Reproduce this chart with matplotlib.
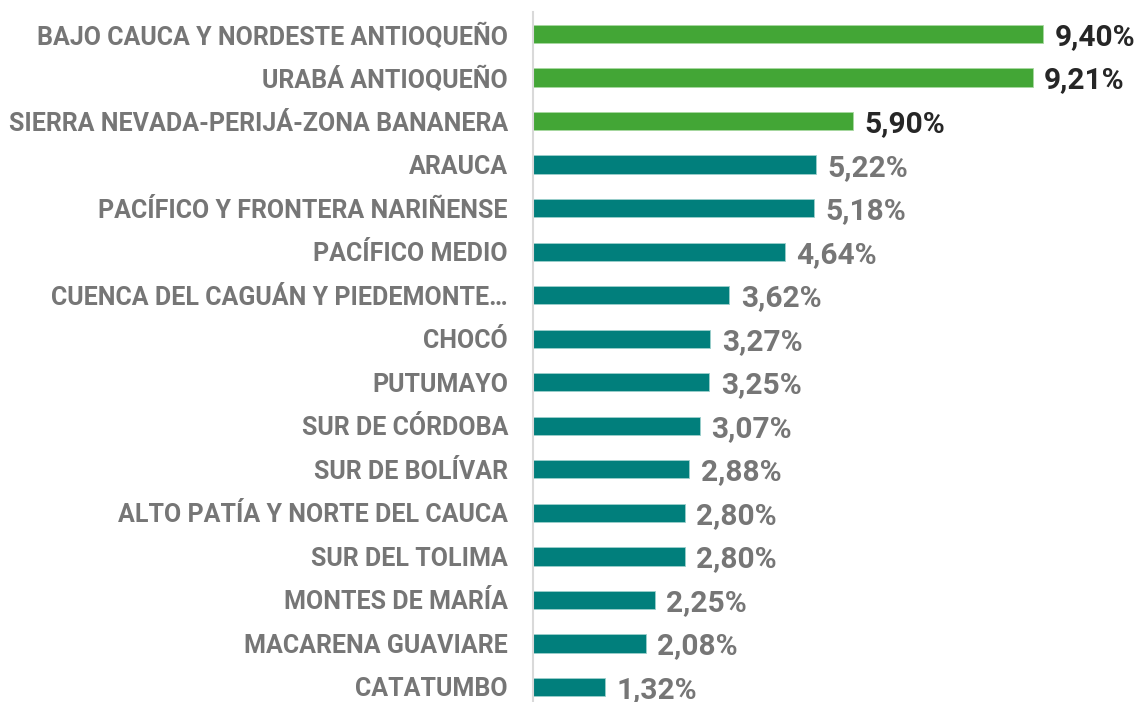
import matplotlib
matplotlib.use("Agg")
import matplotlib.pyplot as plt

categories = [
    "BAJO CAUCA Y NORDESTE ANTIOQUEÑO",
    "URABÁ ANTIOQUEÑO",
    "SIERRA NEVADA-PERIJÁ-ZONA BANANERA",
    "ARAUCA",
    "PACÍFICO Y FRONTERA NARIÑENSE",
    "PACÍFICO MEDIO",
    "CUENCA DEL CAGUÁN Y PIEDEMONTE…",
    "CHOCÓ",
    "PUTUMAYO",
    "SUR DE CÓRDOBA",
    "SUR DE BOLÍVAR",
    "ALTO PATÍA Y NORTE DEL CAUCA",
    "SUR DEL TOLIMA",
    "MONTES DE MARÍA",
    "MACARENA GUAVIARE",
    "CATATUMBO",
]
values = [9.40, 9.21, 5.90, 5.22, 5.18, 4.64, 3.62, 3.27, 3.25, 3.07, 2.88, 2.80, 2.80, 2.25, 2.08, 1.32]
highlight = [True, True, True] + [False] * 13

GREEN = "#43A636"
TEAL = "#017F7C"
LABEL_GRAY = "#767676"
DARK = "#262626"

plt.rcParams["font.family"] = ["Roboto", "DejaVu Sans"]

fig = plt.figure(figsize=(11.38, 7.02), dpi=100)
ax = fig.add_axes([533 / 1138, 0.0, 1 - 533 / 1138, 1 - 12 / 702])

ypos = list(range(len(categories)))
colors = [GREEN if h else TEAL for h in highlight]
edges = ["#A8D8A0" if h else "#9CCFCC" for h in highlight]
ax.barh(ypos, values, height=0.42, color=colors, edgecolor=edges, linewidth=0.6)

for y, v, h in zip(ypos, values, highlight):
    ax.text(v + 0.21, y + 0.07, f"{v:.2f}".replace(".", ",") + "%",
            va="center", ha="left", fontsize=21.5, fontweight="bold",
            color=DARK if h else LABEL_GRAY)

ax.set_yticks(ypos)
ax.set_yticklabels(categories, fontsize=18, fontweight="bold", color=LABEL_GRAY)
ax.tick_params(axis="y", length=0, pad=18)
ax.set_xticks([])
ax.set_xlim(0, 11.15)
ax.set_ylim(15.345, -0.506)
for s in ["top", "right", "bottom"]:
    ax.spines[s].set_visible(False)
ax.spines["left"].set_color("#D9D9D9")
ax.spines["left"].set_linewidth(1.5)

fig.savefig("out.png", dpi=100)
